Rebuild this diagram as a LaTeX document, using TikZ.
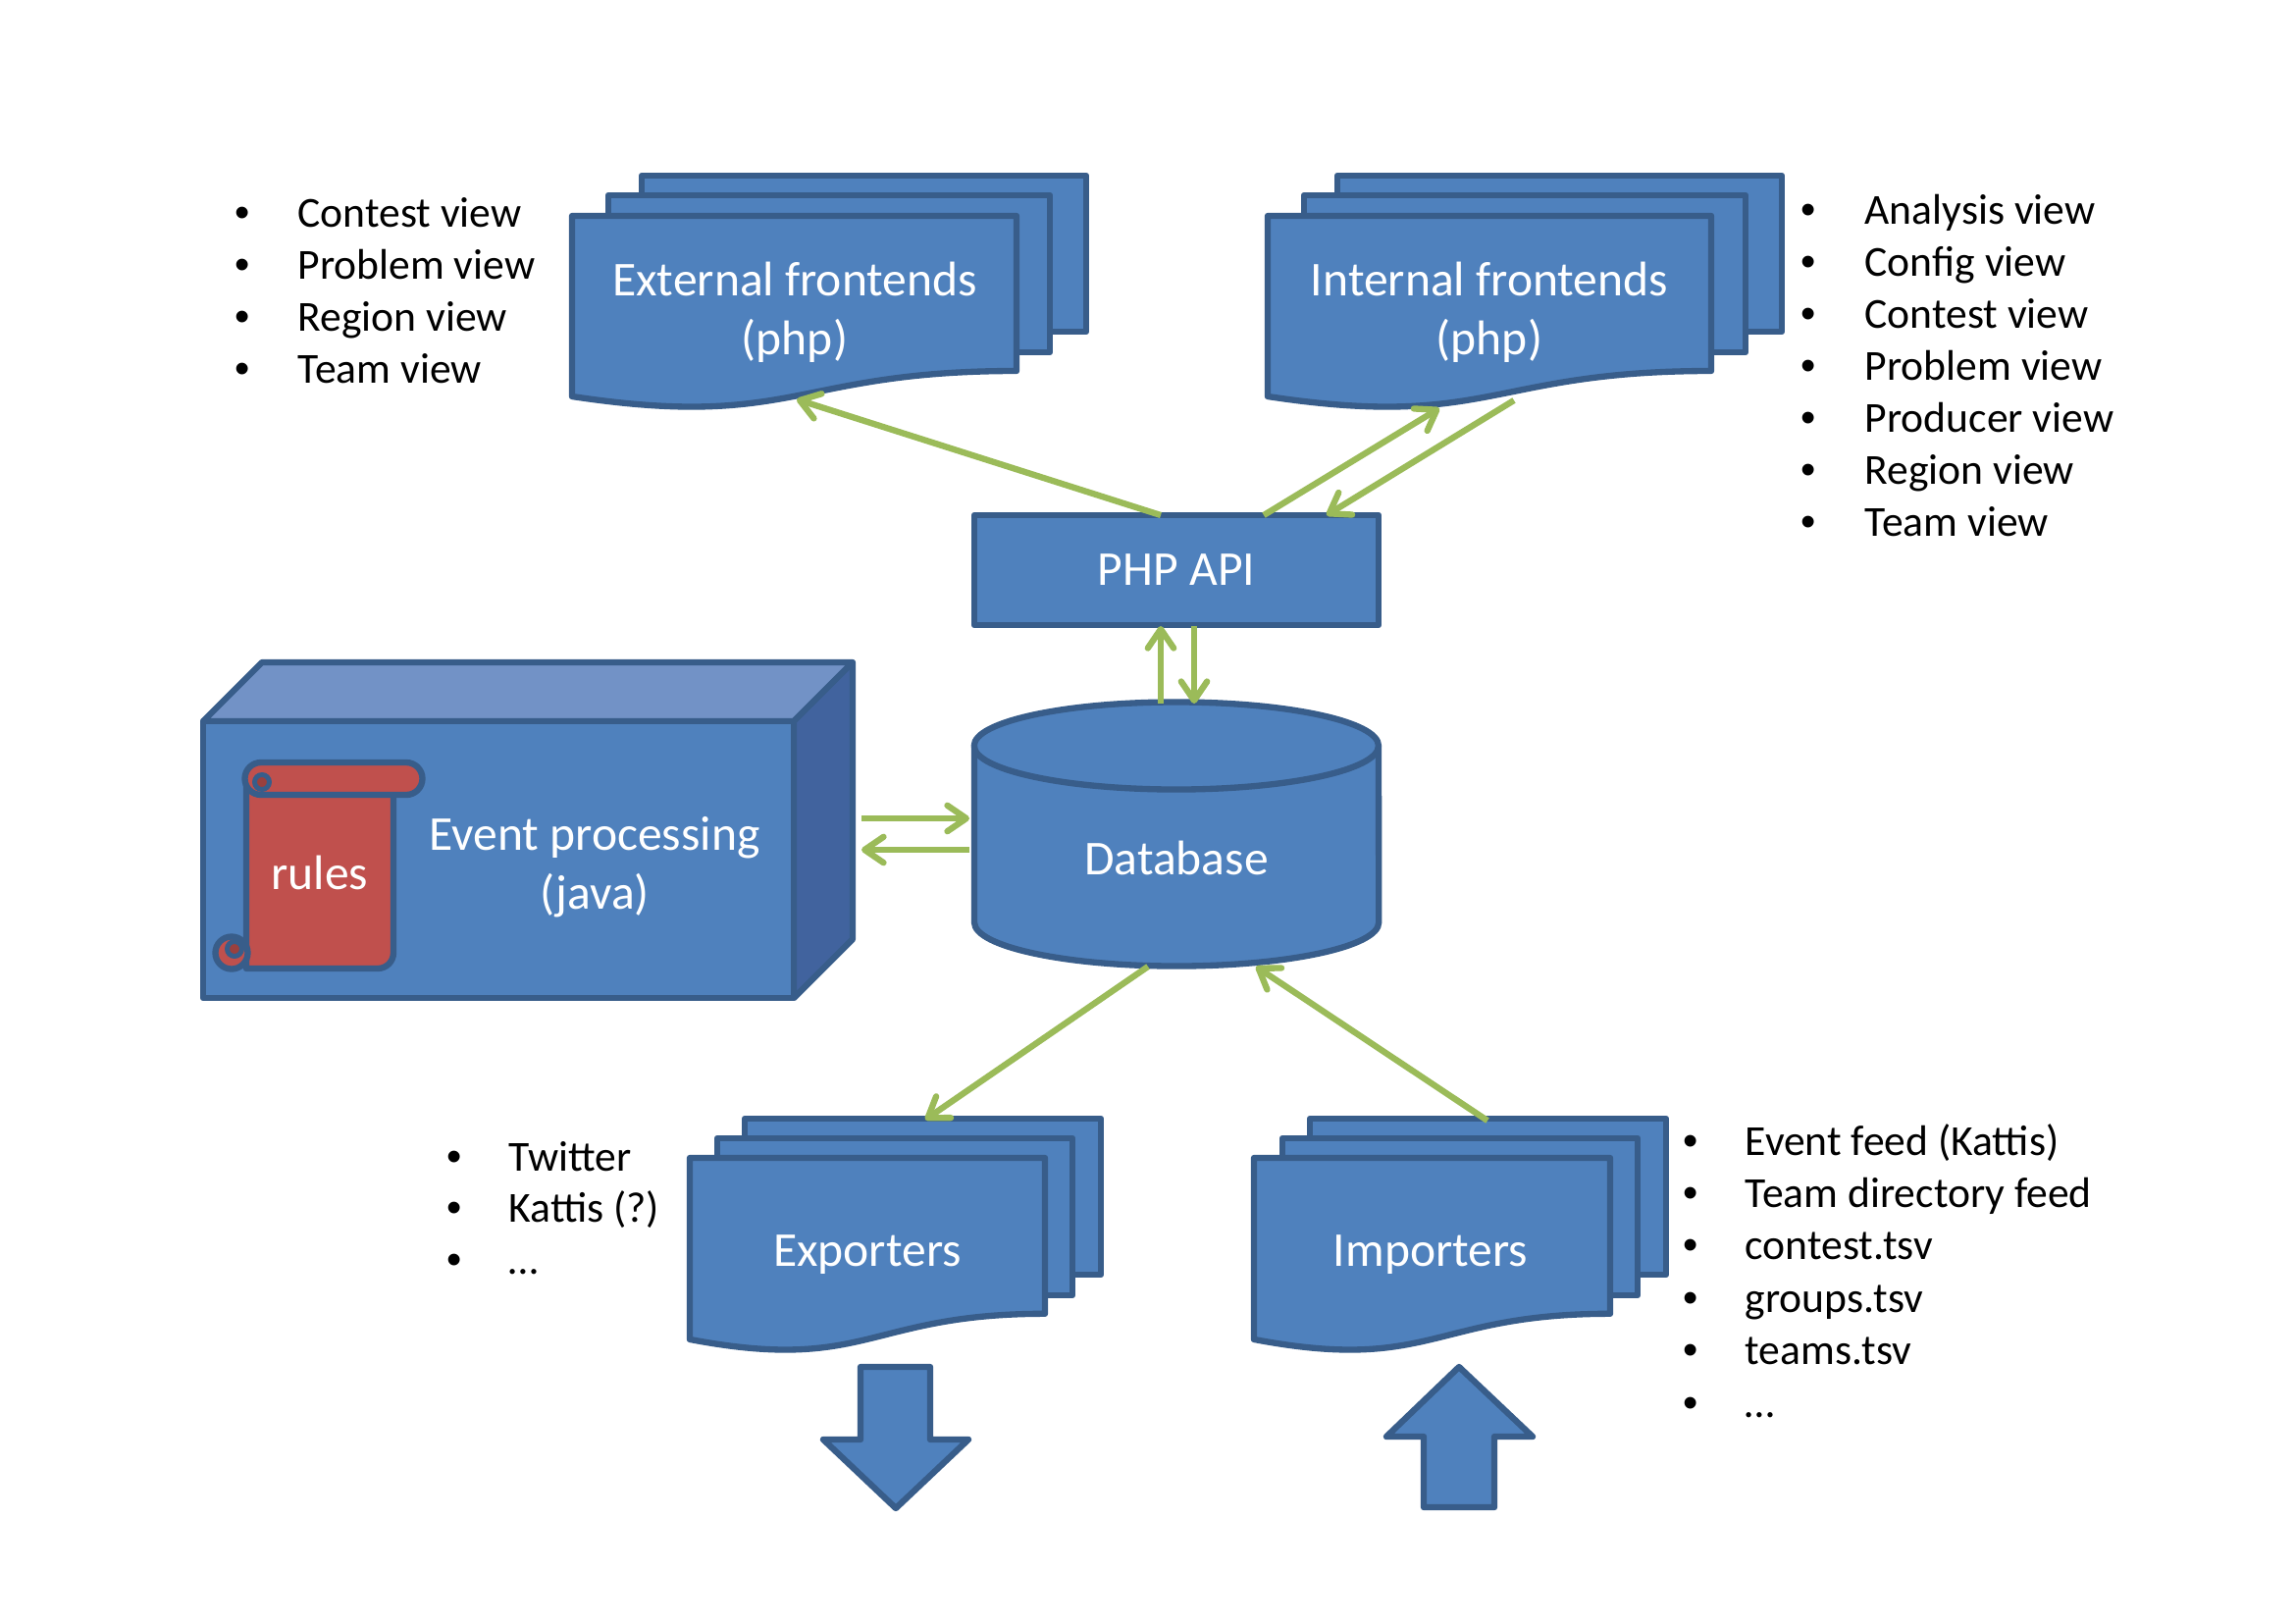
\documentclass[tikz,border=0pt]{standalone}
\usepackage{fontspec}
\setmainfont{Carlito}
\newfontfamily\bulletfont{Liberation Sans}
\usetikzlibrary{arrows.meta}
\definecolor{bfill}{HTML}{4F81BD}
\definecolor{bline}{HTML}{385D8A}
\definecolor{ctop}{HTML}{7292C6}
\definecolor{cright}{HTML}{41639E}
\definecolor{sred}{HTML}{C0504D}
\definecolor{scurl}{HTML}{9A403E}
\definecolor{cgreen}{HTML}{9BBB59}
\tikzset{
  shp/.style={draw=bline, fill=bfill, line width=1.8pt, line join=round},
  scr/.style={draw=bline, fill=sred, line width=1.8pt, line join=round},
  conn/.style={draw=cgreen, line width=1.8pt, -{Straight Barb[length=5.5pt,width=7.5pt,round]}},
  lbl/.style={text=white, font=\fontsize{14.1pt}{17.1pt}\selectfont, align=center, inner sep=0pt},
  itm/.style={anchor=base west, inner sep=0pt, font=\fontsize{12.4pt}{15pt}\selectfont},
  bul/.style={anchor=base, inner sep=0pt, font=\bulletfont\fontsize{12.4pt}{15pt}\selectfont},
}
\newcommand{\docpage}[4]{%
  \draw[shp] (#1,#2) -- ({#1+#3},#2) -- ({#1+#3},{#2+0.802*#4})
    .. controls ({#1+0.5*#3},{#2+0.802*#4}) and ({#1+0.5*#3},{#2+1.1075*#4}) .. (#1,{#2+0.934*#4}) -- cycle;}
\begin{document}
\begin{tikzpicture}[x=0.01cm, y=-0.01cm]
\useasboundingbox (0,0) rectangle (2339,1654);
\fill[white] (0,0) rectangle (2339,1654);

% External frontends
\draw[shp] (654,179) rectangle (1107,338);
\draw[shp] (620,199) rectangle (1070,359);
\docpage{583}{220}{453}{197}
\node[lbl] (ext) at (810,318) {External frontends\\(php)};

% Internal frontends
\draw[shp] (1363,179) rectangle (1816,338);
\draw[shp] (1329,199) rectangle (1779,359);
\docpage{1292}{220}{452}{197}
\node[lbl] (int) at (1518,318) {Internal frontends\\(php)};

% PHP API
\draw[shp] (993,525) rectangle (1405,637);
\node[lbl] (api) at (1199,581) {PHP API};

% Database
\draw[shp] (993,760) -- (993,940) arc[start angle=180, end angle=360, x radius=2.06cm, y radius=0.445cm]
  -- (1405,760) arc[start angle=0, end angle=180, x radius=2.06cm, y radius=0.445cm] -- cycle;
\draw[bline, line width=1.8pt] (1405,760) arc[start angle=0, end angle=-180, x radius=2.06cm, y radius=0.445cm];
\node[lbl] (db) at (1199,874) {Database};

% Event processing cube
\draw[shp, fill=ctop] (207,735) -- (267,675) -- (869,675) -- (809,735) -- cycle;
\draw[shp, fill=cright] (809,735) -- (869,675) -- (869,957) -- (809,1017) -- cycle;
\draw[shp] (207,735) rectangle (809,1017);
\node[lbl] (evt) at (606,884) {Event processing\\(java)};

% rules scroll
\draw[scr] (251,800) -- (251,987) -- (385,987) arc[start angle=-90, end angle=0, radius=0.16cm] -- (401,800) -- cycle;
\draw[scr] (266,777) -- (414,777) arc[start angle=90, end angle=-90, radius=0.165cm]
  -- (266,810) arc[start angle=270, end angle=90, radius=0.165cm] -- cycle;
\draw[scr, fill=scurl, line width=1.4pt] (267,797) circle[radius=0.075cm];
\draw[scr] (236,971) circle[radius=0.165cm];
\draw[scr, fill=scurl, line width=1.4pt] (239,967) circle[radius=0.075cm];
\node[lbl] (rules) at (326,889) {rules};

% Exporters
\draw[shp] (759,1140) rectangle (1122,1299);
\draw[shp] (731,1160) rectangle (1093,1320);
\docpage{703}{1180}{362}{198}
\node[lbl] (exp) at (884,1279) {Exporters};

% Importers
\draw[shp] (1335,1140) rectangle (1698,1299);
\draw[shp] (1307,1160) rectangle (1669,1320);
\docpage{1278}{1180}{363}{198}
\node[lbl] (imp) at (1458,1279) {Importers};

% big block arrows
\draw[shp] (877,1393) -- (948,1393) -- (948,1467) -- (987,1467) -- (913,1537) -- (839,1467) -- (877,1467) -- cycle;
\draw[shp] (1487,1393) -- (1562,1464) -- (1523,1464) -- (1523,1536) -- (1451,1536) -- (1451,1464) -- (1413,1464) -- cycle;

% connector end points
\coordinate (apiA) at (1183,525);
\coordinate (extIn) at (812,407);
\coordinate (apiB) at (1288,525);
\coordinate (intIn) at (1467,416);
\coordinate (intOut) at (1543,408);
\coordinate (apiC) at (1352,525);
\coordinate (dbUp) at (1183,717);
\coordinate (apiUp) at (1183,638);
\coordinate (apiDn) at (1217,638);
\coordinate (dbDn) at (1217,717);
\coordinate (evR1) at (878,834);
\coordinate (dbL1) at (988,834);
\coordinate (dbL2) at (988,866);
\coordinate (evR2) at (878,866);
\coordinate (dbB1) at (1170,985);
\coordinate (expIn) at (943,1141);
\coordinate (impOut) at (1516,1142);
\coordinate (dbB2) at (1280,985);

\draw[conn] (apiA) -- (extIn);
\draw[conn] (apiB) -- (intIn);
\draw[conn] (intOut) -- (apiC);
\draw[conn] (dbUp) -- (apiUp);
\draw[conn] (apiDn) -- (dbDn);
\draw[conn] (evR1) -- (dbL1);
\draw[conn] (dbL2) -- (evR2);
\draw[conn] (dbB1) -- (expIn);
\draw[conn] (impOut) -- (dbB2);

% bullet list: external
\foreach \t [count=\i from 0] in {Contest view, Problem view, Region view, Team view}{
  \node[bul] (eb\i) at (247,{231.7+52.8*\i}) {•};
  \node[itm] (et\i) at (303,{231.7+52.8*\i}) {\t};
}
% bullet list: internal
\foreach \t [count=\i from 0] in {Analysis view, Config view, Contest view, Problem view, Producer view, Region view, Team view}{
  \node[bul] (ib\i) at (1843,{228+53.1*\i}) {•};
  \node[itm] (it\i) at (1900,{228+53.1*\i}) {\t};
}
% bullet list: exporters
\foreach \t [count=\i from 0] in {Twitter, Kattis (?), …}{
  \node[bul] (xb\i) at (463,{1193+52.5*\i}) {•};
  \node[itm] (xt\i) at (518,{1193+52.5*\i}) {\t};
}
% bullet list: importers
\foreach \t [count=\i from 0] in {Event feed (Kattis), Team directory feed, contest.tsv, groups.tsv, teams.tsv, …}{
  \node[bul] (mb\i) at (1723,{1177+53.4*\i}) {•};
  \node[itm] (mt\i) at (1778,{1177+53.4*\i}) {\t};
}
\end{tikzpicture}
\end{document}
